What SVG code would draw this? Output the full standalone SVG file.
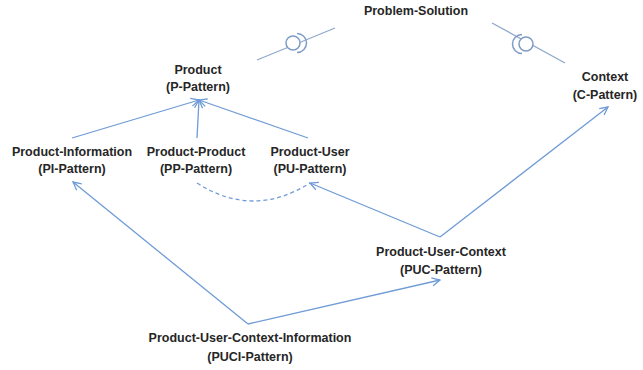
<svg xmlns="http://www.w3.org/2000/svg" width="643" height="370" viewBox="0 0 643 370">
<defs>
<style>
text{font-family:"Liberation Sans",Arial,sans-serif;font-weight:bold;font-size:12.5px;fill:#262626;text-anchor:middle}
.c{fill:none;stroke:#6f9bd6;stroke-width:1.3}
.d{fill:none;stroke:#6f9bd6;stroke-width:1.3;stroke-dasharray:4 3}
.lp{fill:#fff;stroke:#7f9cc4;stroke-width:1.5}
.sk{fill:none;stroke:#7f9cc4;stroke-width:1.5}
</style>
<marker id="ah" viewBox="0 0 10 10" refX="9" refY="5" markerWidth="10" markerHeight="10" markerUnits="userSpaceOnUse" orient="auto">
<path d="M1,1 L9,5 L1,9" fill="none" stroke="#6f9bd6" stroke-width="1.3"/>
</marker>
</defs>
<rect width="643" height="370" fill="#fff"/>
<g id="connectors">
<line class="c" x1="72" y1="138" x2="199" y2="100" marker-end="url(#ah)"/>
<line class="c" x1="197" y1="138" x2="199" y2="100" marker-end="url(#ah)"/>
<line class="c" x1="308" y1="138" x2="199" y2="100" marker-end="url(#ah)"/>
<line class="c" x1="440" y1="237" x2="310" y2="183" marker-end="url(#ah)"/>
<line class="c" x1="440" y1="237" x2="608" y2="107" marker-end="url(#ah)"/>
<line class="c" x1="248" y1="324" x2="73" y2="182" marker-end="url(#ah)"/>
<line class="c" x1="248" y1="324" x2="440" y2="280" marker-end="url(#ah)"/>
<path class="d" d="M197,183 Q253,219 310,183"/>
<line class="c" x1="257" y1="60" x2="335" y2="28" style="stroke:#8fa8cc"/>
<circle class="lp" cx="293" cy="43" r="7"/>
<path class="sk" d="M297,33.5 A9.5 9.5 0 0 1 297,52.5"/>
<line class="c" x1="492" y1="23" x2="565" y2="63" style="stroke:#8fa8cc"/>
<circle class="lp" cx="526" cy="44" r="7"/>
<path class="sk" d="M522,34.5 A9.5 9.5 0 0 0 522,53.5"/>
</g>
<g id="problem-solution"><text x="416" y="15">Problem-Solution</text></g>
<g id="product"><text x="198" y="74">Product</text><text x="198" y="91">(P-Pattern)</text></g>
<g id="context"><text x="605" y="81">Context</text><text x="605" y="99">(C-Pattern)</text></g>
<g id="product-information"><text x="72" y="156">Product-Information</text><text x="72" y="173">(PI-Pattern)</text></g>
<g id="product-product"><text x="196" y="156">Product-Product</text><text x="196" y="173">(PP-Pattern)</text></g>
<g id="product-user"><text x="310" y="156">Product-User</text><text x="310" y="173">(PU-Pattern)</text></g>
<g id="product-user-context"><text x="441" y="256">Product-User-Context</text><text x="441" y="274">(PUC-Pattern)</text></g>
<g id="product-user-context-information"><text x="250" y="342">Product-User-Context-Information</text><text x="250" y="361">(PUCI-Pattern)</text></g>
</svg>
